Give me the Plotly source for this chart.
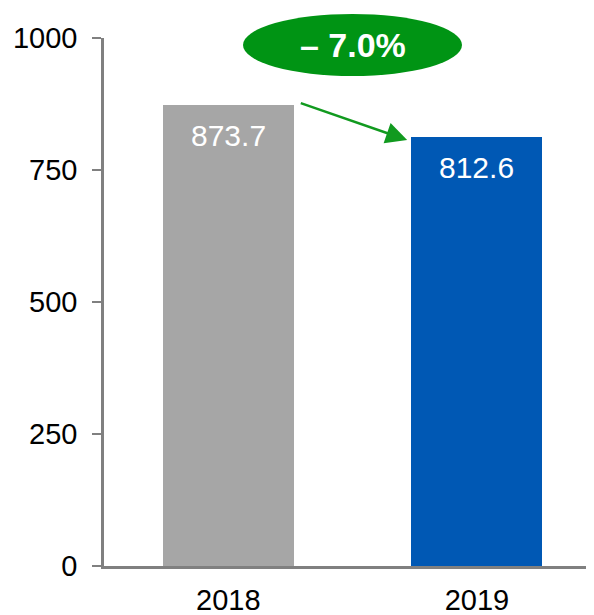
import plotly.graph_objects as go

categories = ["2018", "2019"]
values = [873.7, 812.6]
bar_colors = ["#A6A6A6", "#0058B4"]
y_ticks = [0, 250, 500, 750, 1000]

change_pct = (values[1] / values[0] - 1) * 100
change_label = f"<b>{'–' if change_pct < 0 else '+'} {abs(change_pct):.1f}%</b>"

bar_w = 0.527
x_idx = list(range(len(categories)))

# page has an 8px body margin; figure is sized/offset to compensate
OFF = 8
W, H = 594 - OFF, 615 - OFF
L, T = 104 - OFF, 38 - OFF
PW, PH = 490, 528


def px(x):
    return (x - 104) / PW


def py(y):
    return (566 - y) / PH


fig = go.Figure()
fig.add_trace(go.Bar(
    x=x_idx, y=values, width=bar_w,
    marker=dict(color=bar_colors, line=dict(width=0)),
    hoverinfo="skip",
))

# bar value labels
for i, v in zip(x_idx, values):
    fig.add_annotation(x=i, y=v, xref="x", yref="y", text=f"{v:.1f}",
                       showarrow=False, yshift=-31, yanchor="middle",
                       font=dict(family="Liberation Sans, Arial", size=30, color="white"))

# ellipse with change
fig.add_shape(type="circle", xref="paper", yref="paper",
              x0=px(243), x1=px(462), y0=py(76), y1=py(14),
              fillcolor="#009414", line=dict(width=0), layer="above")
fig.add_annotation(xref="paper", yref="paper",
                   x=px(352.5), y=py(45),
                   text=change_label, showarrow=False,
                   xanchor="center", yanchor="middle",
                   font=dict(family="Liberation Sans, Arial", size=34, color="white"))

# arrow
fig.add_annotation(xref="x", yref="y", axref="x", ayref="y",
                   x=1 - bar_w / 2 - 0.017, y=values[1] - 6,
                   ax=0 + bar_w / 2 + 0.022, ay=values[0] + 4,
                   text="", showarrow=True, arrowhead=2, arrowsize=1.7,
                   arrowwidth=2.5, arrowcolor="#119A1F", standoff=0, startstandoff=0)

fig.update_layout(
    width=W, height=H,
    margin=dict(l=L, r=W - L - PW, t=T, b=H - T - PH, autoexpand=False),
    paper_bgcolor="white", plot_bgcolor="white",
    showlegend=False, bargap=0,
    font=dict(family="Liberation Sans, Arial", size=29, color="black"),
)
fig.update_xaxes(
    range=[-0.5, 1.471], tickmode="array", tickvals=x_idx, ticktext=categories,
    showline=True, linecolor="#808080", linewidth=2.5, ticks="",
    showgrid=False, zeroline=False, ticklabelstandoff=6, automargin=False,
    tickfont=dict(size=29, color="black"),
)
fig.update_yaxes(
    range=[0, 1000], tickmode="array", tickvals=y_ticks,
    showline=True, linecolor="#808080", linewidth=2.5,
    ticks="outside", ticklen=9, tickcolor="#808080", tickwidth=2,
    showgrid=False, zeroline=False, ticklabelstandoff=9, automargin=False,
    tickfont=dict(size=29, color="black"),
)

fig.write_html("out.html")
